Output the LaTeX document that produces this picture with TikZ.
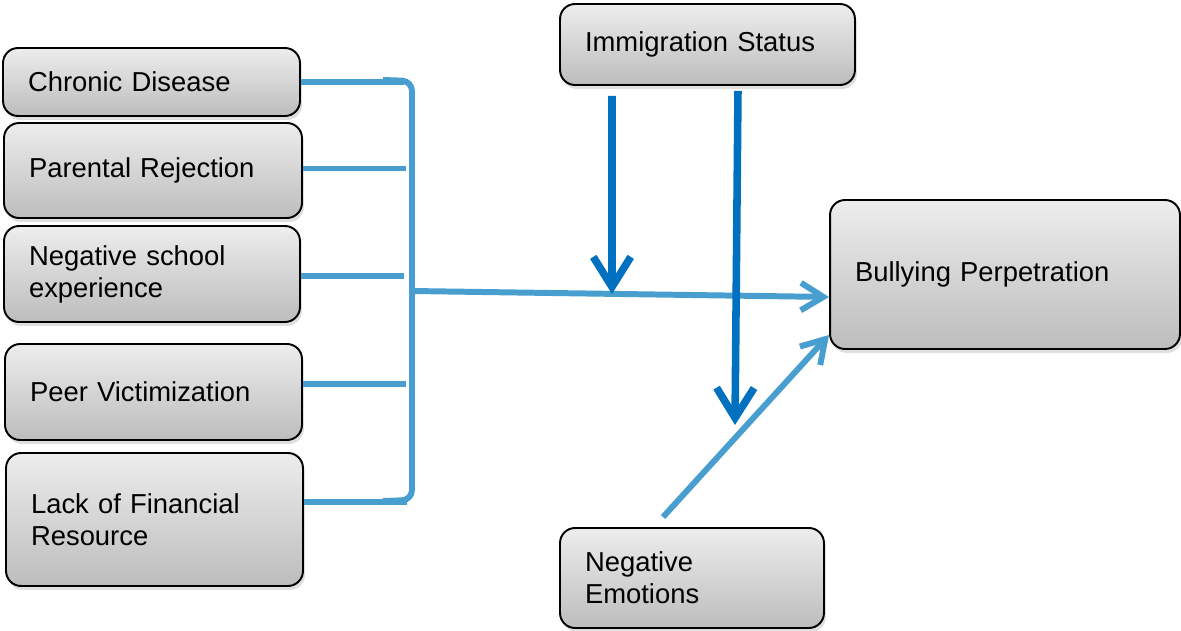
\documentclass[tikz,border=0pt]{standalone}
\usepackage{fontspec}
\setmainfont{Liberation Sans}
\usepackage{tikz}
\usepackage{xcolor}
\usetikzlibrary{arrows.meta, shadows}

\definecolor{lightlink}{RGB}{72,158,206}
\definecolor{darklink}{RGB}{0,112,192}

\begin{document}
\begin{tikzpicture}[
        x=0.02cm, y=-0.02cm,
        % Style for the grey factor boxes
        factorbox/.style={rectangle, rounded corners=0.3cm, draw=black, line width=1.1pt,
            top color=black!7, bottom color=black!26, align=left,
            inner xsep=0.5cm, inner ysep=0pt,
            font=\fontsize{15.6}{18.3}\selectfont,
            drop shadow={opacity=0.25, shadow xshift=0.04cm, shadow yshift=-0.08cm}},
        % Style for the light blue paths
        link/.style={draw=lightlink, line width=3.4pt},
        linkarrow/.style={link, -{Straight Barb[length=0.45cm, width=0.55cm]}},
        % Style for the dark blue moderator arrows
        modarrow/.style={draw=darklink, line width=4.3pt, -{Straight Barb[length=0.6cm, width=0.75cm]}}
    ]
    \useasboundingbox (0,0) rectangle (1181,631);

        % --- Predictor boxes ---
        \node[factorbox, text width=4.94cm, minimum height=1.36cm] (cd) at (151.5, 82) {Chronic Disease};
        \node[factorbox, text width=4.96cm, minimum height=1.90cm] (pr) at (153, 170.5) {Parental Rejection};
        \node[factorbox, text width=4.92cm, minimum height=1.92cm] (ns) at (152, 274) {Negative school\\experience};
        \node[factorbox, text width=4.94cm, minimum height=1.92cm] (pv) at (153.5, 392) {Peer Victimization};
        \node[factorbox, text width=4.94cm, minimum height=2.66cm] (lf) at (154.5, 519.5) {Lack of Financial\\Resource};

        % --- Moderator, mediator and outcome ---
        \node[factorbox, text width=4.90cm, minimum height=1.62cm] (is) at (707.5, 44.5) {Immigration Status};
        \node[factorbox, text width=6.00cm, minimum height=2.98cm] (bp) at (1005, 274.5) {Bullying Perpetration};
        \node[factorbox, text width=4.28cm, minimum height=2.00cm] (ne) at (692, 578) {Negative\\Emotions};

        % --- Bracket joining the predictors ---
        \coordinate (btop) at (383, 80);
        \coordinate (bbot) at (383, 501);
        \coordinate (cusp) at (412, 291);
        \draw[link, rounded corners=0.2cm] (btop) -- (412, 81) -- (412, 500) -- (bbot);
        \foreach \n/\s in {cd/0, pr/0.04, ns/-0.04, pv/0.16, lf/0.35}
            \draw[link] ([yshift=\s cm]\n.east) -- ++(103, 0);

        % --- Paths to the outcome ---
        \draw[linkarrow] (cusp) -- ([yshift=-0.45cm]bp.west);
        \draw[linkarrow] ([xshift=-0.58cm, yshift=0.2cm]ne.north) -- ([yshift=0.3cm]bp.south west);

        % --- Moderating arrows ---
        \coordinate (m1) at (612, 294);
        \coordinate (m2) at (735, 425);
        \draw[modarrow] ([xshift=-1.91cm, yshift=-0.2cm]is.south) -- (m1);
        \draw[modarrow] ([xshift=0.61cm, yshift=-0.1cm]is.south) -- (m2);

    \end{tikzpicture}
\end{document}
